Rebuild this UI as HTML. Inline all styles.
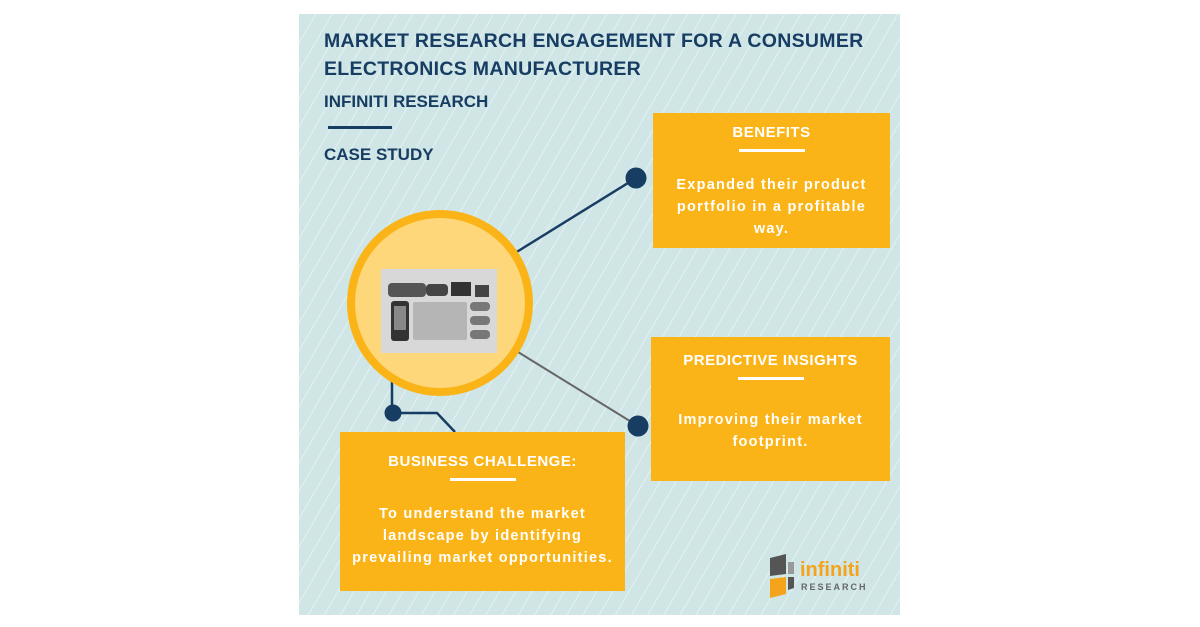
<!DOCTYPE html>
<html><head><style>
body{margin:0;width:1200px;height:627px;background:#fff;position:relative;overflow:hidden;font-family:"Liberation Sans",sans-serif}
.panel{position:absolute;left:299px;top:14px;width:601px;height:601px;background-color:#cfe5e6;background-image:repeating-linear-gradient(120deg,rgba(255,255,255,0.45) 0 1px,transparent 1px 14px)}
.t{position:absolute;color:#173d63;font-weight:bold}
.box{position:absolute;background:#fbb417;color:#fff;font-weight:bold;text-align:center}
.box .h{font-size:15px;letter-spacing:.5px}
.box .bar{width:66px;height:3px;background:#fff;margin:8px auto 0}
.box .p{font-size:14.5px;line-height:22px;letter-spacing:1.25px}
</style></head><body>
<div class="panel"></div>
<div class="t" style="left:324px;top:27px;font-size:19.5px;line-height:28px;letter-spacing:.3px">MARKET RESEARCH ENGAGEMENT FOR A CONSUMER<br>ELECTRONICS MANUFACTURER</div>
<div class="t" style="left:324px;top:92px;font-size:17px">INFINITI RESEARCH</div>
<div style="position:absolute;left:328px;top:126px;width:64px;height:3px;background:#173d63"></div>
<div class="t" style="left:324px;top:145px;font-size:17px">CASE STUDY</div>
<svg style="position:absolute;left:0;top:0" width="1200" height="627">
<line x1="515" y1="253" x2="636" y2="178" stroke="#173d63" stroke-width="2.5"/>
<line x1="518" y1="352" x2="638" y2="426" stroke="#666" stroke-width="2"/>
<polyline points="392,380 392,413 437,413 455,432" fill="none" stroke="#173d63" stroke-width="2.5"/>
<circle cx="636" cy="178" r="10.5" fill="#173d63"/>
<circle cx="638" cy="426" r="10.5" fill="#173d63"/>
<circle cx="393" cy="413" r="8.5" fill="#173d63"/>
<circle cx="440" cy="303" r="93" fill="#fbb417"/>
<circle cx="440" cy="303" r="85" fill="#fdd77a"/>
<rect x="381" y="269" width="116" height="84" fill="#d8d8d8"/>
<rect x="388" y="283" width="38" height="14" rx="4" fill="#555"/>
<rect x="426" y="284" width="22" height="12" rx="4" fill="#444"/>
<rect x="451" y="282" width="20" height="14" fill="#333"/>
<rect x="475" y="285" width="14" height="12" fill="#444"/>
<rect x="391" y="301" width="18" height="40" rx="3" fill="#333"/>
<rect x="394" y="306" width="12" height="24" fill="#888"/>
<rect x="413" y="302" width="54" height="38" rx="2" fill="#b5b5b5"/>
<rect x="470" y="302" width="20" height="9" rx="4" fill="#777"/>
<rect x="470" y="316" width="20" height="9" rx="4" fill="#777"/>
<rect x="470" y="330" width="20" height="9" rx="4" fill="#777"/>
</svg>
<div class="box" style="left:653px;top:113px;width:237px;height:135px">
<div class="h" style="margin-top:11px">BENEFITS</div><div class="bar"></div>
<div class="p" style="margin-top:22px">Expanded their product<br>portfolio in a profitable<br>way.</div></div>
<div class="box" style="left:651px;top:337px;width:239px;height:144px">
<div class="h" style="margin-top:15px">PREDICTIVE INSIGHTS</div><div class="bar"></div>
<div class="p" style="margin-top:29px">Improving their market<br>footprint.</div></div>
<div class="box" style="left:340px;top:432px;width:285px;height:159px">
<div class="h" style="margin-top:21px">BUSINESS CHALLENGE:</div><div class="bar"></div>
<div class="p" style="margin-top:22px">To understand the market<br>landscape by identifying<br>prevailing market opportunities.</div></div>
<svg style="position:absolute;left:768px;top:554px" width="30" height="46">
<polygon points="2,4 18,0 18,20 2,22" fill="#555"/><polygon points="20,8 26,8 26,20 20,20" fill="#999"/>
<polygon points="2,25 18,23 18,40 2,44" fill="#f4a31b"/><polygon points="20,23 26,23 26,34 20,36" fill="#555"/>
</svg>
<div style="position:absolute;left:800px;top:560px;color:#f4a31b;font-weight:bold;font-size:20px;line-height:20px">infiniti</div>
<div style="position:absolute;left:801px;top:582px;color:#666;font-weight:bold;font-size:9px;letter-spacing:2px">RESEARCH</div>
</body></html>
